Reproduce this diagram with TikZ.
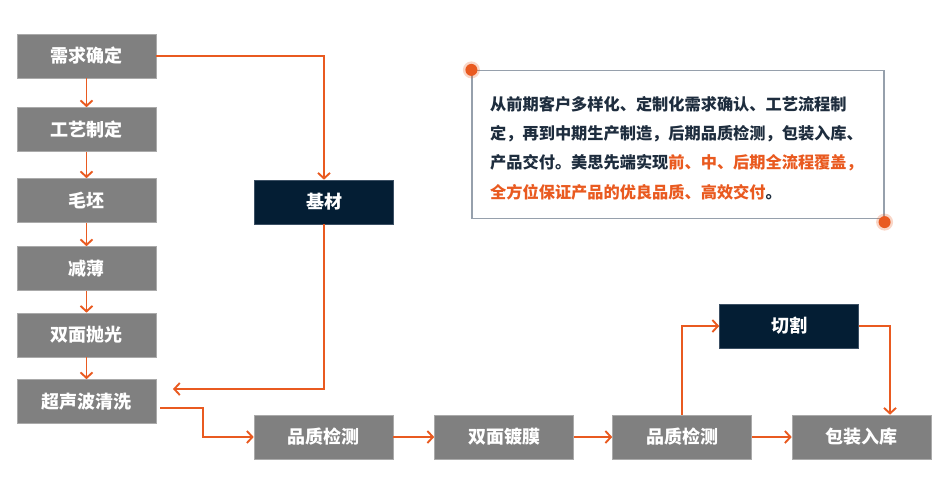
\documentclass[tikz,border=0pt]{standalone}
\usepackage{fontspec}
\setmainfont{Noto Sans CJK SC}
\newfontfamily\cjk{Noto Sans CJK SC}
\usetikzlibrary{arrows.meta}
\definecolor{accent}{RGB}{233,90,32}
\definecolor{boxgray}{RGB}{128,128,128}
\definecolor{boxdark}{RGB}{4,30,52}
\definecolor{txtdark}{RGB}{30,45,62}
\definecolor{frame}{RGB}{150,160,172}
\tikzset{
  stepbox/.style={fill=boxgray, draw={rgb,255:red,170;green,170;blue,170}, line width=0.6pt,
    minimum width=139pt, minimum height=44pt, inner sep=0pt,
    text=white, font=\cjk\bfseries\fontsize{18}{21}\selectfont},
  darkbox/.style={stepbox, fill=boxdark, draw={rgb,255:red,60;green,80;blue,100}},
  flow/.style={draw=accent, line width=1.9pt, -{Straight Barb[length=5.5pt,width=12pt,line width=1.9pt]}},
  para/.style={anchor=west, inner sep=0pt, font=\cjk\bfseries\fontsize{16.2}{20}\selectfont},
  dot/.style={fill=accent, draw=none, circle, minimum size=12pt, inner sep=0pt}
}
\begin{document}
\begin{tikzpicture}[x=1pt,y=-1pt]
\useasboundingbox (0,0) rectangle (939,492);
% left column
\node[stepbox] (s1) at (86.5,56) {需求确定};
\node[stepbox] (s2) at (86.5,129.5) {工艺制定};
\node[stepbox] (s3) at (86.5,200.5) {毛坯};
\node[stepbox] (s4) at (86.5,268.5) {减薄};
\node[stepbox] (s5) at (86.5,335) {双面抛光};
\node[stepbox] (s6) at (86.5,401.5) {超声波清洗};
\node[darkbox] (jc) at (324,202) {基材};
% bottom row
\node[stepbox] (q1) at (323.5,437) {品质检测};
\node[stepbox] (dm) at (504,437) {双面镀膜};
\node[stepbox] (q2) at (682,437) {品质检测};
\node[stepbox] (bz) at (861.5,437) {包装入库};
\node[darkbox] (qg) at (789,326) {切割};
% connectors
\draw[flow] (s1) -- (s2);
\draw[flow] (s2) -- (s3);
\draw[flow] (s3) -- (s4);
\draw[flow] (s4) -- (s5);
\draw[flow] (s5) -- (s6);
\draw[flow] (s1.east) -| (jc.north);
\coordinate (ret) at (173,389);
\draw[flow] (jc.south) |- (ret);
\coordinate (k1) at (203,408);
\draw[flow] ([xshift=4pt]s6.east |- k1) -- (k1) |- (q1.west);
\draw[flow] (q1) -- (dm);
\draw[flow] (dm) -- (q2);
\draw[flow] (q2) -- (bz);
\draw[flow] (q2.north) |- (qg.west);
\coordinate (k2) at (890,326);
\draw[flow] (qg.east) -- (k2) -- (k2 |- bz.north);
% text box
\node[draw=frame, line width=1.2pt, minimum width=412pt, minimum height=148pt, inner sep=0pt] (tb) at (678,144.5) {};
\node[para, text=txtdark] (l1) at (490,104) {从前期客户多样化、定制化需求确认、工艺流程制};
\node[para, text=txtdark] (l2) at (490,134) {定，再到中期生产制造，后期品质检测，包装入库、};
\node[para] (l3) at (490,163) {\textcolor{txtdark}{产品交付。美思先端实现}\textcolor{accent}{前、中、后期全流程覆盖，}};
\node[para] (l4) at (490,192) {\textcolor{accent}{全方位保证产品的优良品质、高效交付}\textcolor{txtdark}{。}};
\fill[accent, opacity=0.25] (tb.north west) circle (8.5pt);
\fill[accent, opacity=0.25] ([yshift=-3pt]tb.south east) circle (8.5pt);
\node[dot] (d1) at (tb.north west) {};
\node[dot] (d2) at ([yshift=-3pt]tb.south east) {};
\end{tikzpicture}
\end{document}
